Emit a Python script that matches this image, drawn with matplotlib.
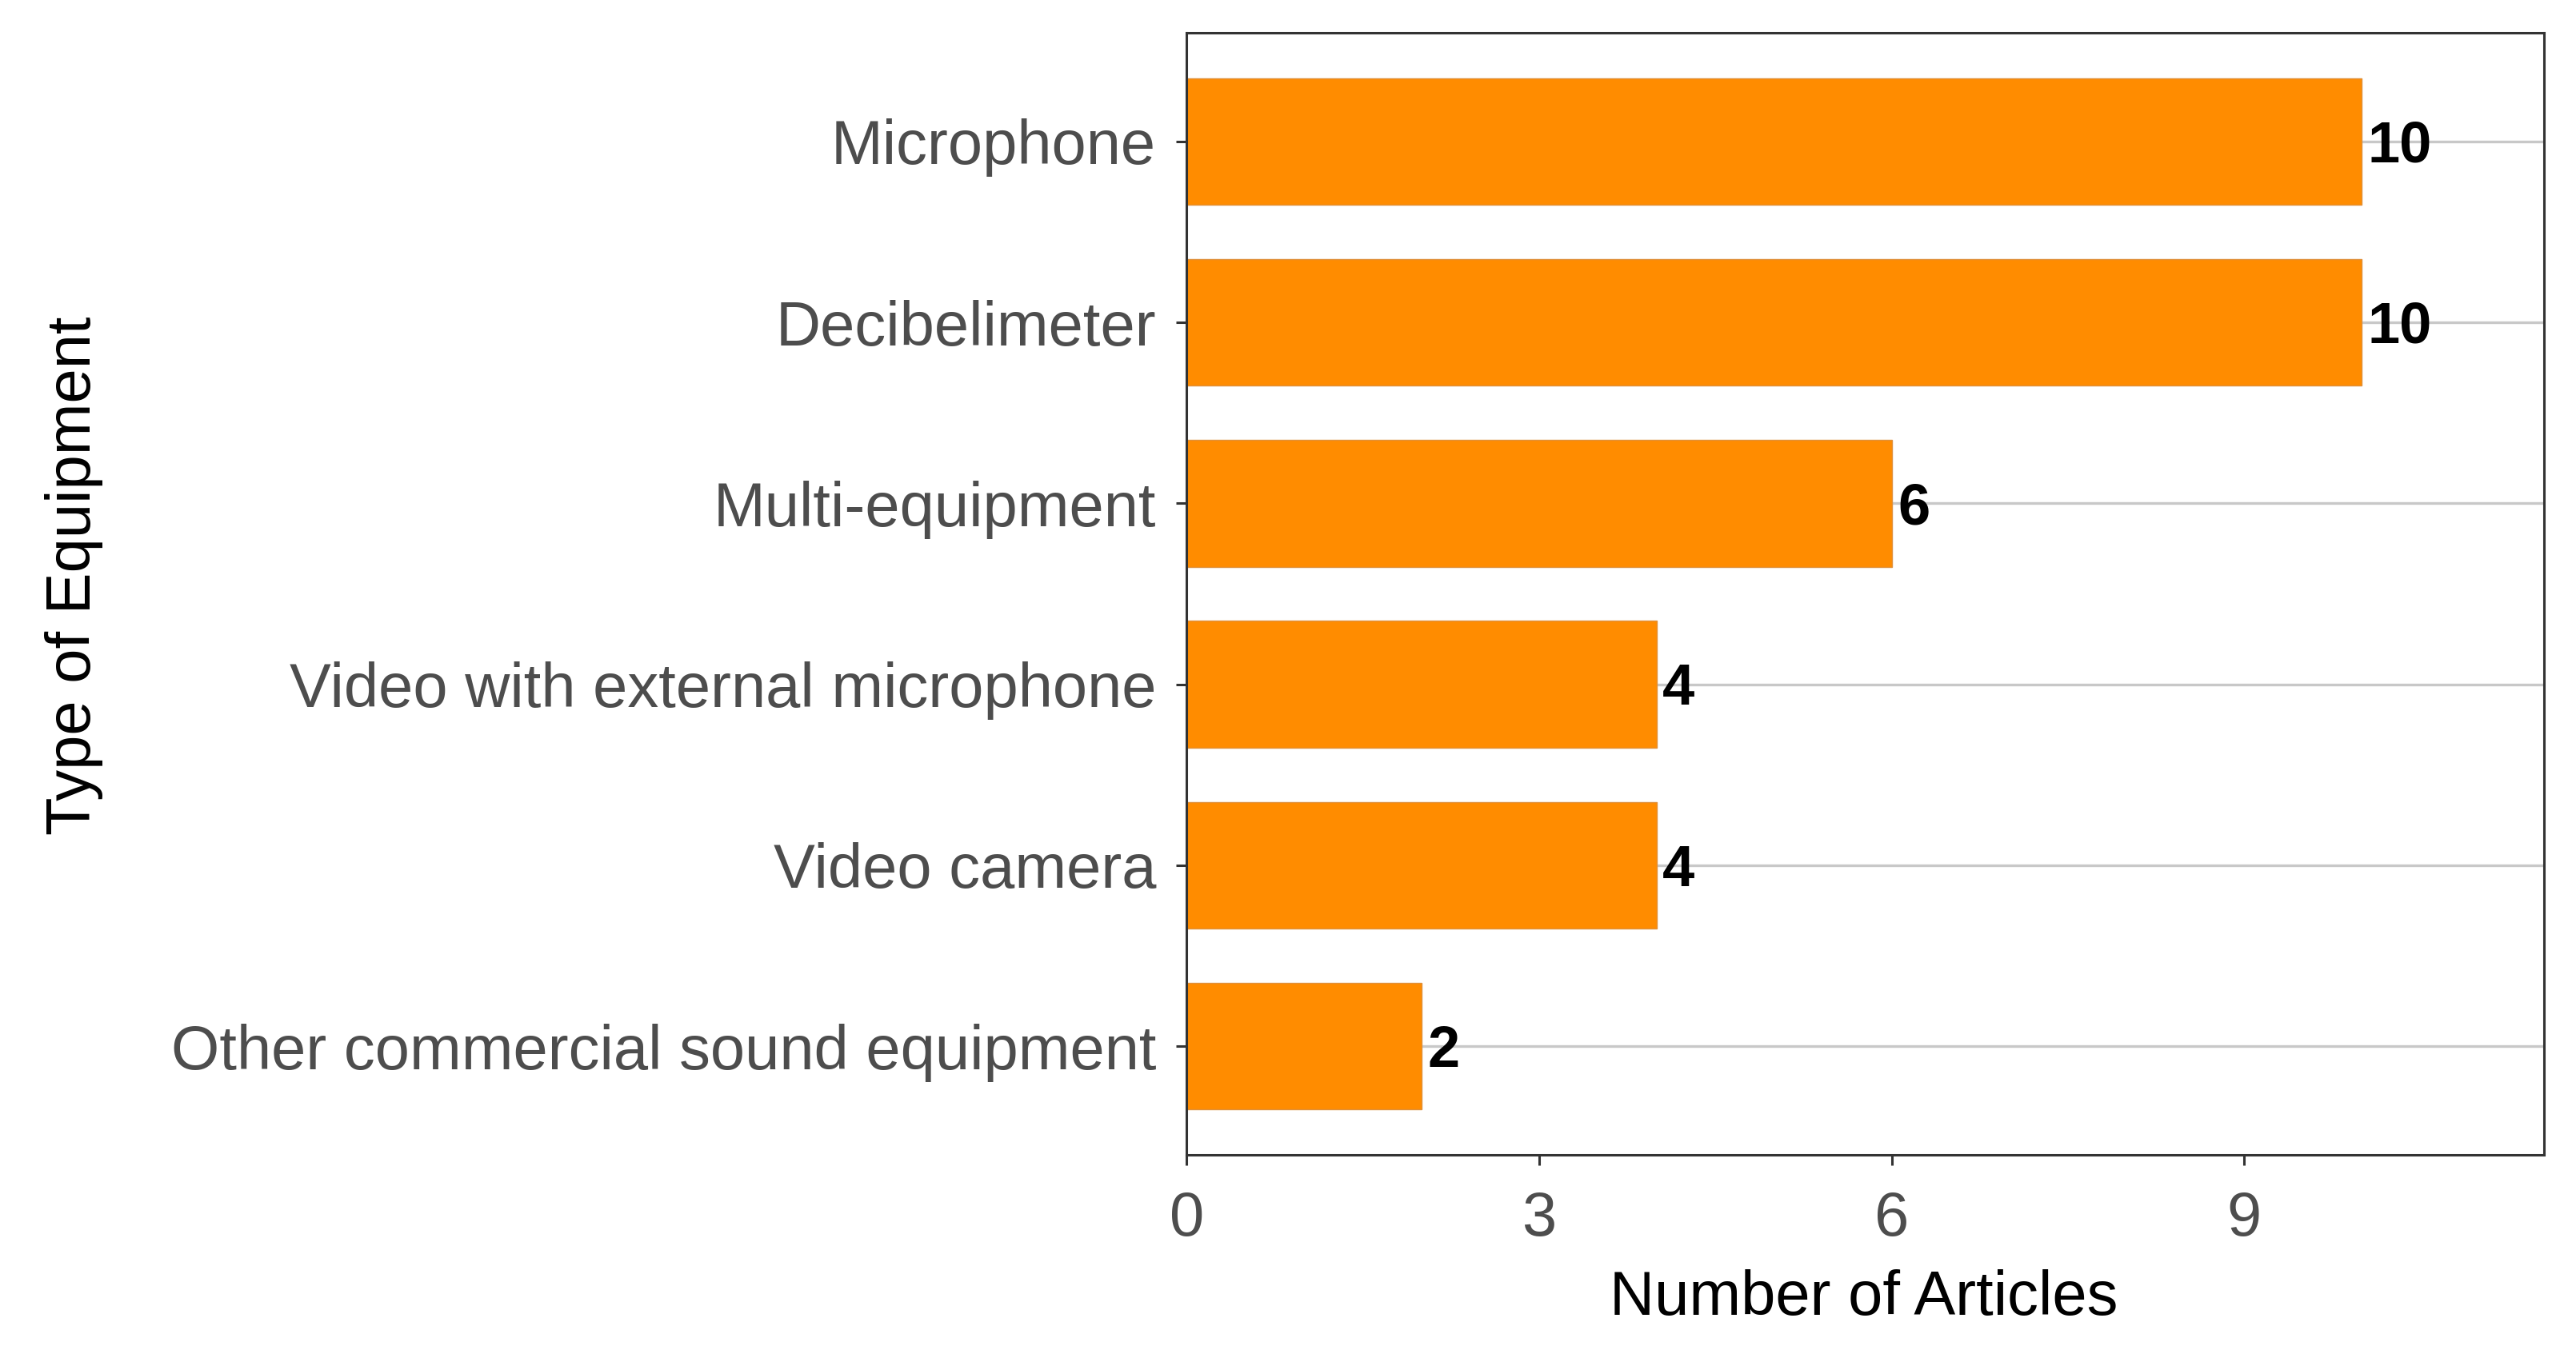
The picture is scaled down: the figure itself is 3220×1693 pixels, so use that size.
import numpy as np
import matplotlib.pyplot as plt

# data (top to bottom in the chart)
equipment = ['Microphone', 'Decibelimeter', 'Multi-equipment',
             'Video with external microphone', 'Video camera',
             'Other commercial sound equipment']
articles = [10, 10, 6, 4, 4, 2]

plt.rcParams['font.family'] = ['Liberation Sans', 'DejaVu Sans']

fig = plt.figure(figsize=(16.1, 8.465), dpi=200)
ax = fig.add_axes([0.4606, 0.1471, 0.527, 0.8287])

# bottom category first on the axis
ypos = np.arange(len(equipment))[::-1] + 1

ax.set_axisbelow(True)
ax.yaxis.grid(True, color='#c8c8c8', linewidth=1.2)
ax.barh(ypos, articles, height=0.7, color='#ff8c00', edgecolor='#e0903a', linewidth=0.5, zorder=2)

for y, v in zip(ypos, articles):
    ax.text(v + 0.05, y - 0.03, str(v), ha='left', va='center', fontsize=26,
            fontweight='bold', color='black', zorder=3)

ax.set_xlim(0, 11.55)
ax.set_ylim(0.4, len(equipment) + 0.6)
ax.set_xticks([0, 3, 6, 9])
ax.set_yticks(ypos)
ax.set_yticklabels(equipment)

for s in ax.spines.values():
    s.set_color('#333333')
    s.set_linewidth(1.1)

ax.tick_params(axis='both', colors='#333333', length=4.7, width=1.1,
               labelsize=28, labelcolor='#4d4d4d')
ax.tick_params(axis='y', pad=9)
ax.tick_params(axis='x', pad=11)

fig.text(0.7236, 0.041, 'Number of Articles', ha='center', va='center', fontsize=28)
fig.text(0.0286, 0.575, 'Type of Equipment', ha='center', va='center',
         rotation=90, fontsize=28)

fig.savefig('out.png', dpi=200)
